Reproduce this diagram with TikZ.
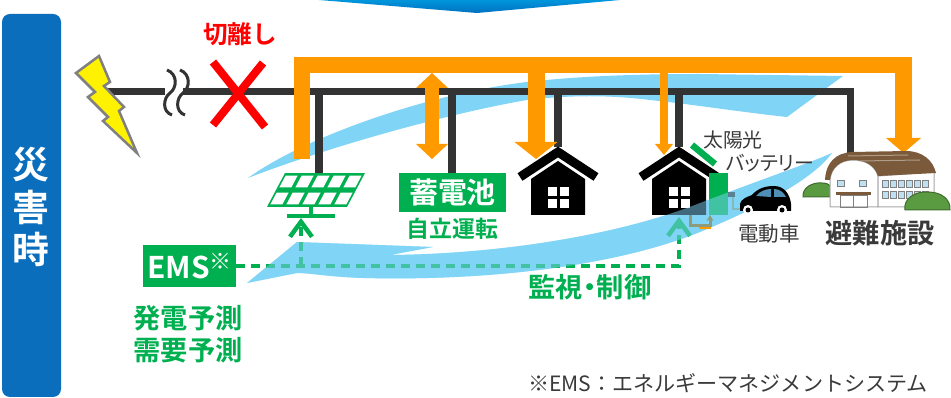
\documentclass[tikz,border=0pt]{standalone}
\usepackage{fontspec}
\setmainfont{Noto Sans CJK JP}[BoldFont={Noto Sans CJK JP Bold}]
\newfontfamily\jpprop{Noto Sans CJK JP}[RawFeature=+palt,BoldFont={Noto Sans CJK JP Bold}]
\usetikzlibrary{arrows.meta,positioning}
\definecolor{panelBlue}{HTML}{0A6EBD}
\definecolor{headTop}{HTML}{0096DC}
\definecolor{headBot}{HTML}{0070C0}
\definecolor{flowBlue}{HTML}{80D4F6}
\definecolor{feedOrange}{HTML}{FF9900}
\definecolor{lineGray}{HTML}{333333}
\definecolor{emsGreen}{HTML}{00B050}
\definecolor{cutRed}{HTML}{FF0000}
\definecolor{roofBrown}{HTML}{7A5A3A}
\definecolor{winBlue}{HTML}{BFE0F0}
\definecolor{bushGreen}{HTML}{5A9A40}
\definecolor{textGray}{HTML}{3A3A3A}
\definecolor{carGlass}{HTML}{4F8FB5}
\definecolor{plugLine}{HTML}{8C9C7C}

\tikzset{
  bus/.style={draw=lineGray,line width=0.15cm},
  feed/.style={draw=feedOrange,line width=0.33cm,line join=miter},
  ctl/.style={draw=emsGreen,line width=0.09cm,dash pattern=on 0.18cm off 0.12cm,
    -{Straight Barb[length=0.3cm,width=0.44cm]}},
  greenbox/.style={fill=emsGreen,text=white,inner sep=0pt},
  greentext/.style={text=emsGreen,inner sep=0pt},
  graytext/.style={text=textGray,inner sep=0pt},
  % upper swoosh (towards the shelter)
  swooshout/.style={insert path={(248,178) .. controls (300,140) and (420,95) .. (527,82)
    .. controls (580,76) and (640,74) .. (700,74) -- (843,76) -- (787,117)
    .. controls (740,112) and (690,104) .. (650,100) .. controls (610,95) and (570,95) .. (527,100)
    .. controls (440,115) and (320,150) .. (248,178) -- cycle}},
  % lower swoosh (back to the EMS)
  swooshback/.style={insert path={(247,283) -- (297,242) -- (433,247) -- (390,255)
    .. controls (500,254) and (620,235) .. (700,203) .. controls (760,180) and (810,163) .. (832,153)
    .. controls (812,180) and (760,207) .. (700,232) .. controls (610,268) and (480,281) .. (363,278)
    .. controls (330,277) and (310,273) .. (297,273) -- cycle}},
  homeicon/.pic={
    \draw[black,line width=0.18cm,line join=miter] (-38,25) -- (0,0) -- (38,25);
    \fill[black] (-27,63) -- (27,63) -- (27,27) -- (0,9) -- (-27,27) -- cycle;
    \foreach \u in {-10.5,1.5}
      \foreach \v in {35.5,47.5}
        \fill[white] (\u,\v) rectangle ++(9,9);
  }
}

\begin{document}
\begin{tikzpicture}[x=0.02cm,y=-0.02cm]
\useasboundingbox (0,0) rectangle (951,398);

% arrow stub from the normal-time panel above
\shade[top color=headTop,bottom color=headBot] (319,0) -- (620,0) -- (477,13) -- cycle;

% side label
\fill[panelBlue,rounded corners=0.16cm] (2,14) rectangle (61,397);
\node[text=white,align=center,font=\bfseries\fontsize{21}{24.4}\selectfont] (disaster) at (31,207) {災\\害\\時};

% energy swooshes (behind everything)
\fill[flowBlue,swooshout];
\fill[flowBlue,swooshback];

% grid line and taps
\coordinate (grid) at (108,91.5);
\coordinate (gapL) at (165,91.5);
\coordinate (gapR) at (183,91.5);
\coordinate (b1) at (319,91.5);
\coordinate (b2) at (452,91.5);
\coordinate (b3) at (558,91.5);
\coordinate (b4) at (679,91.5);
\coordinate (bend) at (850.5,91.5);
\coordinate (pvtop) at (319,173);
\coordinate (home1) at (558,147);
\coordinate (home2) at (679,147);
\coordinate (shelter) at (850.5,158);

\draw[bus] (grid) -- (gapL);
\draw[bus] (gapR) -- (bend) -- (shelter);
\draw[bus] (b1) -- (pvtop);
\draw[bus] (b2) -- (452,174);
\draw[bus] (b3) -- (home1);
\draw[bus] (b4) -- (home2);

% line break mark
\foreach \sx in {167,180}
  \draw[lineGray,line width=0.06cm] (\sx,70) .. controls (\sx+11,74) and (\sx+10,88) .. (\sx+3,93)
    .. controls (\sx-4,98) and (\sx-5,112) .. (\sx+5,115);

% supply from the islanded grid
\draw[feed,-{Triangle[width=0.7cm,length=0.3cm,line width=0pt]}] (302,159) |- (903.5,65) -- (903.5,153);
\draw[feed,line width=0.29cm,{Triangle[width=0.64cm,length=0.3cm,line width=0pt]}-{Triangle[width=0.64cm,length=0.3cm,line width=0pt]}] (432,73) -- (432,159);
\draw[feed,line width=0.34cm,-{Triangle[width=0.86cm,length=0.34cm,line width=0pt]}] (536,72) -- (536,159);
\draw[feed,line width=0.17cm,-{Triangle[width=0.36cm,length=0.22cm,line width=0pt]}] (664,72) -- (664,155);

% disconnection
\draw[cutRed,line width=0.16cm] (213,62) -- (265,127);
\draw[cutRed,line width=0.16cm] (263,63) -- (213,125);
\node[text=cutRed,font=\bfseries\fontsize{14}{14}\selectfont] (cut) at (240,34) {切離し};

% lightning
\filldraw[fill=yellow,draw=gray,line width=0.05cm,line join=miter]
  (99,56) -- (110,82) -- (104,86) -- (124,107) -- (119,111) -- (137,153)
  -- (103,121) -- (108,117) -- (88,97) -- (95,92) -- (76,73) -- cycle;

% solar panel
\begin{scope}[shift={(267,207)},x={(1.6cm,0cm)},y={(0.36cm,0.68cm)}]
  \fill[emsGreen] (0,0) -- (1,0) -- (1,1) -- (0,1) -- cycle;
  \foreach \i in {0,...,4}
    \foreach \j in {0,1}
      \fill[white] (\i/5+0.025,\j/2+0.08) -- ++(0.15,0) -- ++(0,0.34) -- ++(-0.15,0) -- cycle;
\end{scope}
\draw[emsGreen,line width=0.08cm] (311,207) -- (311,216);
\draw[emsGreen,line width=0.08cm] (287,216) -- (335,216);

% storage battery
\node[greenbox,minimum width=2.14cm,minimum height=0.78cm,font=\bfseries\fontsize{16.5}{16.5}\selectfont] (bat) at (452.5,192.5) {蓄電池};
\node[greentext,below=0.1cm of bat,font=\bfseries\fontsize{13}{13}\selectfont] (selfrun) {自立運転};

% houses
\pic at (558,152) {homeicon};
\pic at (679,152) {homeicon};
\draw[emsGreen,line width=0.13cm] (692,145) -- (715,164);
\fill[emsGreen] (709,173) rectangle (728,215);
\fill[lineGray] (728,192) rectangle (735,197);
\draw[plugLine,line width=0.04cm] (733,197) |- (744,209);

% shelter
\fill[bushGreen,draw=bushGreen!70!black,line width=0.02cm] (803,197) .. controls (802,188) and (812,182) .. (822,183)
  .. controls (830,183) and (835,188) .. (834,197) -- cycle;
\fill[white,draw=gray!70,line width=0.02cm] (830,207) -- (830,180) .. controls (831,168) and (840,160) .. (853,160)
  .. controls (866,160) and (875,166) .. (878,176) -- (878,207) -- cycle;
\fill[white,draw=gray!70,line width=0.02cm] (878,176) -- (934,172) -- (934,207) -- (878,207) -- cycle;
\fill[roofBrown] (825,180) .. controls (826,162) and (836,153) .. (852,152) -- (906,151)
  .. controls (922,151) and (933,160) .. (936,173) -- (878,176)
  .. controls (875,166) and (866,160) .. (853,160) .. controls (840,160) and (831,168) .. (830,180) -- cycle;
\draw[roofBrown!60!white,line width=0.02cm] (848,156) -- (908,155);
\draw[roofBrown!60!white,line width=0.02cm] (860,161) -- (920,160);
\foreach \wx in {882,890,...,922} {
  \filldraw[fill=winBlue,draw=gray,line width=0.015cm] (\wx,180) rectangle ++(6,7);
  \filldraw[fill=winBlue,draw=gray,line width=0.015cm] (\wx,191) rectangle ++(6,7);
}
\filldraw[fill=winBlue,draw=gray,line width=0.015cm] (837,180) rectangle ++(7,6);
\filldraw[fill=winBlue,draw=gray,line width=0.015cm] (859,180) rectangle ++(7,6);
\fill[roofBrown] (836,192) rectangle (871,195);
\draw[gray,line width=0.015cm] (840,195) rectangle (867,207);
\draw[gray,line width=0.015cm] (853.5,195) -- (853.5,207);
\fill[bushGreen,draw=bushGreen!70!black,line width=0.02cm] (905,210) .. controls (903,199) and (915,191) .. (928,192)
  .. controls (942,192) and (951,200) .. (950,210) -- cycle;

% monitoring and control
\coordinate (pvtap) at (301,266);
\coordinate (pvbase) at (301,218);
\coordinate (h2base) at (679,217);
\draw[ctl] (pvtap) -- (pvbase);
\draw[ctl] (236,266) -| (h2base);
\node[greenbox,minimum width=1.86cm,minimum height=0.84cm,font=\bfseries\fontsize{17}{17}\selectfont] (ems) at (189.5,266)
  {EMS\raisebox{0.3em}{\fontsize{12.5}{12.5}\selectfont ※}};
\node[greentext,align=center,font=\bfseries\fontsize{15.5}{18.1}\selectfont] (forecast) at (188,334) {発電予測\\需要予測};

% the returning swoosh tints what lies under it
\fill[flowBlue,fill opacity=0.5,swooshback];

% charging arrow and car
\draw[plugLine,line width=0.06cm,-{Stealth[length=0.12cm,width=0.14cm]}] (690,215) |- (710,226) -- (710,215);
\draw[feedOrange,line width=0.04cm] (699,228) -- (711,228);
\fill[black] (740,211) -- (740,204) .. controls (741,199) and (747,197) .. (752,195)
  .. controls (758,188) and (766,186) .. (774,186) .. controls (784,186) and (790,194) .. (791,204) -- (791,211) -- cycle;
\fill[carGlass] (756,196) .. controls (760,191) and (766,189) .. (771,189) -- (771,197) -- cycle;
\fill[carGlass] (774,189) .. controls (780,189) and (784,193) .. (786,197) -- (774,197) -- cycle;
\foreach \wx in {748,782} {
  \fill[white] (\wx,210) circle (5);
  \fill[black] (\wx,210) circle (2.5);
}

% labels
\node[graytext,font=\fontsize{11.3}{11.3}\selectfont] (sunlabel) at (733,140) {太陽光};
\node[graytext,font=\jpprop\fontsize{11.3}{11.3}\selectfont] (battlabel) at (770,163) {バッテリー};
\node[graytext,font=\fontsize{11.7}{11.7}\selectfont] (evlabel) at (769,234) {電動車};
\node[text=textGray,font=\bfseries\fontsize{15.5}{15.5}\selectfont] (shelterlabel) at (880,233) {避難施設};
\node[greentext,font=\jpprop\bfseries\fontsize{15.5}{15.5}\selectfont] (watch) at (590,287) {監視・制御};
\node[graytext,font=\fontsize{12}{12}\selectfont] (note) at (728,383) {※EMS：エネルギーマネジメントシステム};
\end{tikzpicture}
\end{document}
